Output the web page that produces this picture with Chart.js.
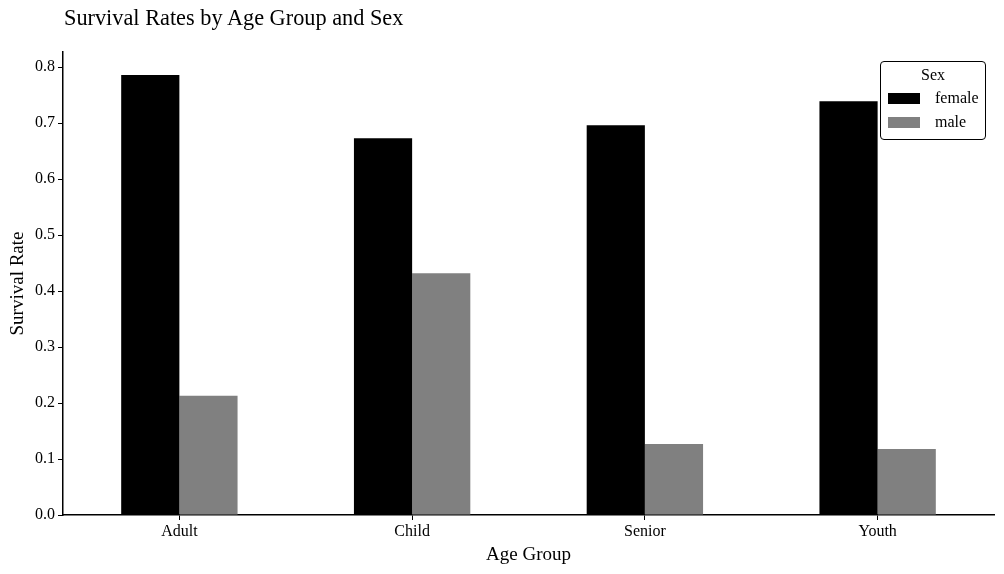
<!DOCTYPE html>
<html>
<head>
<meta charset="utf-8">
<script src="https://cdn.jsdelivr.net/npm/chart.js@4"></script>
<style>
  body { margin: 0; background: #fff; font-family: "Liberation Serif", "DejaVu Serif", serif; }
  #wrap { position: relative; width: 1004px; height: 574px; }
  #title { position: absolute; left: 64px; top: 5px; font-size: 22.3px; color: #000; }
  #legend { position: absolute; left: 880px; top: 61px; width: 104px; height: 77px;
    border: 1px solid #000; border-radius: 4px; background: rgba(255,255,255,0.8); font-size: 16px; }
  #legend .head { text-align: center; margin-top: 4px; height: 20px; }
  #legend .row { display: flex; align-items: center; height: 24px; }
  #legend .sw { width: 32px; height: 11px; margin-left: 7px; margin-right: 15px; }
</style>
</head>
<body>
<div id="wrap">
  <canvas id="chart" width="1004" height="574"></canvas>
  <div id="title">Survival Rates by Age Group and Sex</div>
  <div id="legend"></div>
</div>
<script>
// values
const ageGroups = ['Adult', 'Child', 'Senior', 'Youth'];
const femaleRate = [0.786, 0.673, 0.696, 0.739];
const maleRate = [0.213, 0.432, 0.127, 0.118];
const seriesNames = ['female', 'male'];
const seriesColors = ['#000000', '#808080'];

const serif = '"Liberation Serif", "DejaVu Serif", serif';

const chart = new Chart(document.getElementById('chart'), {
  type: 'bar',
  data: {
    labels: ageGroups,
    datasets: [
      { label: seriesNames[0], data: femaleRate, backgroundColor: seriesColors[0] },
      { label: seriesNames[1], data: maleRate, backgroundColor: seriesColors[1] }
    ]
  },
  options: {
    responsive: false,
    animation: false,
    datasets: { bar: { categoryPercentage: 0.5, barPercentage: 1.0 } },
    layout: { padding: { top: 52, right: 10, bottom: 0, left: 0 } },
    plugins: { legend: { display: false }, title: { display: false }, tooltip: { enabled: false } },
    scales: {
      x: {
        afterFit: (s) => { s.height = 59; },
        grid: { display: true, drawOnChartArea: false, offset: false, tickLength: 5, color: '#000' },
        border: { display: true, color: '#000', width: 1.5 },
        ticks: { color: '#000', padding: 2, font: { family: serif, size: 16 } },
        title: { display: true, text: 'Age Group', color: '#000', padding: { top: 0, bottom: 8 }, font: { family: serif, size: 19 } }
      },
      y: {
        min: 0,
        max: 0.827,
        afterFit: (s) => { s.width = 63; },
        grid: { display: true, drawOnChartArea: false, tickLength: 5, color: '#000' },
        border: { display: true, color: '#000', width: 1.5 },
        ticks: { stepSize: 0.1, includeBounds: false, color: '#000', padding: 3,
          font: { family: serif, size: 16 }, callback: (v) => v.toFixed(1) },
        title: { display: true, text: 'Survival Rate', color: '#000', padding: { top: 7, bottom: 0 }, font: { family: serif, size: 19 } }
      }
    }
  }
});

// legend built from the chart's own datasets
const legend = document.getElementById('legend');
legend.innerHTML = '<div class="head">Sex</div>' + chart.data.datasets.map(d =>
  `<div class="row"><span class="sw" style="background:${d.backgroundColor}"></span>${d.label}</div>`).join('');
</script>
</body>
</html>
